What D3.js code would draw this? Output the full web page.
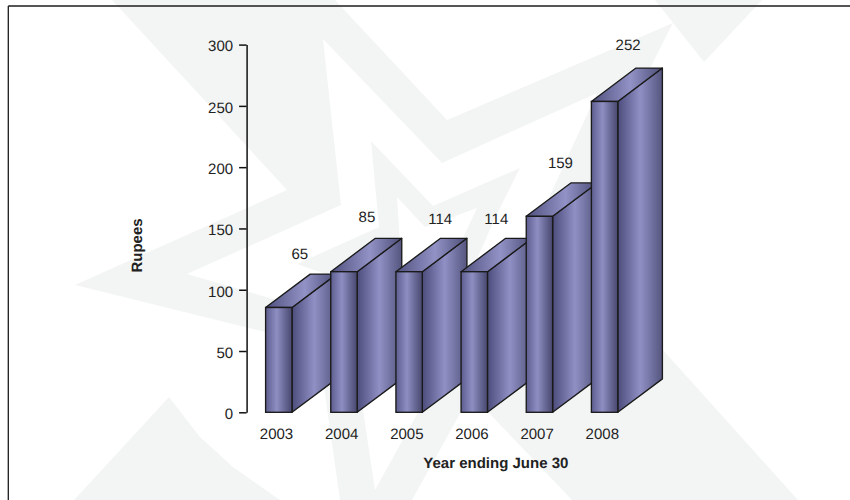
<!DOCTYPE html>
<html>
<head>
<meta charset="utf-8">
<script src="https://cdnjs.cloudflare.com/ajax/libs/d3/7.8.5/d3.min.js"></script>
<style>
html,body{margin:0;padding:0;background:#fff}
svg{display:block}
text{font-family:"Liberation Sans",Arial,sans-serif;fill:#222;text-rendering:geometricPrecision}
</style>
</head>
<body>
<svg id="chart" width="850" height="500"></svg>
<script>
// Data
const years = ["2003","2004","2005","2006","2007","2008"];
const barHeights = [85.5,114.7,114.7,114.7,159.9,253.6];   // height the bars are drawn at
const valueLabels = ["65","85","114","114","159","252"];    // printed labels
const yTicks = [0,50,100,150,200,250,300];
const xTitle = "Year ending June 30";
const yTitle = "Rupees";

// Layout
const labelDx = [21,23,31,22,21,23.5];
const labelDy = [49,50,48,48,48,51];
const barWidth = 26.4, depthX = 44.6, depthY = 33.4;

// Watermark shapes (background artwork, not data)
const wmGrey = "#f3f5f4";
const wmLayers = [
 [wmGrey,[[112,0],[287,190],[75,285],[318,345],[340,500],[412,500],[471,394],[488,412],[572,500],[798,500],[663,350],[563,239],[673,23],[447,120],[335,0]]],
 [wmGrey,[[655,0],[704,62],[762,0]]],
 [wmGrey,[[169,397],[200,437],[233,467],[280,500],[74,500]]],
 ["#ffffff",[[323,39],[442,163],[597,93],[525,250],[500,310],[461,335],[375,490],[363,410],[345,320],[187,274],[341,205]]],
 [wmGrey,[[371,141],[433,206],[520,168],[495,218],[470,275],[400,300],[297,264],[379,227]]],
 ["#ffffff",[[397,197],[425,227],[477,208],[462,240],[440,290],[403,290]]]
];

const svg = d3.select("#chart");

const defs = svg.append("defs");
function grad(id, stops){
  const g = defs.append("linearGradient").attr("id",id)
    .attr("x1","0").attr("x2","1").attr("y1","0").attr("y2","0");
  stops.forEach(s=>g.append("stop").attr("offset",s[0]).attr("stop-color",s[1]));
}
grad("front",[[0,"#5d5d90"],[0.42,"#8e8ec2"],[1,"#47476f"]]);
grad("side",[[0,"#4c4c7c"],[0.5,"#9090c5"],[1,"#55557f"]]);
grad("top",[[0,"#50507f"],[0.55,"#9292c6"],[1,"#4d4d78"]]);

// Background artwork
const wm = svg.append("g");
wmLayers.forEach(l=>{
  wm.append("polygon").attr("fill",l[0]).attr("points",l[1].map(p=>p.join(",")).join(" "));
});

// Frame (top and left only)
svg.append("line").attr("x1",8.3).attr("x2",850).attr("y1",6).attr("y2",6).attr("stroke","#1c1c1c").attr("stroke-width",1.3);
svg.append("line").attr("x1",8.3).attr("x2",8.3).attr("y1",6).attr("y2",500).attr("stroke","#1c1c1c").attr("stroke-width",1.3);

// Scales
const x = d3.scalePoint().domain(years).range([278.8,604.6]);
const y = d3.scaleLinear().domain([0,300]).range([412.3,44.6]);

// Y axis
const yAxis = d3.axisLeft(y).tickValues(yTicks).tickSize(7.5).tickPadding(6).tickSizeOuter(0);
const gy = svg.append("g").attr("transform","translate(246.6,0)").call(yAxis);
gy.selectAll("path,line").attr("stroke","#111").attr("stroke-width",1.5);
gy.selectAll("text").attr("dy",null).attr("y",6.3).attr("font-size",15).style("fill","#222");
gy.attr("font-family",null).attr("font-size",null);

// Bars
const poly = pts => pts.map(p=>p.join(",")).join(" ");
const bars = svg.append("g").selectAll("g").data(years).join("g");
const stroke = "#1a1a1a", sw = 1.35;
bars.each(function(yr,i){
  const g = d3.select(this);
  const l = x(yr)-barWidth/2, r = l+barWidth, t = y(barHeights[i]), b = y(0);
  g.append("polygon").attr("points",poly([[r,t],[r+depthX,t-depthY],[r+depthX,b-depthY],[r,b]]))
    .attr("fill","url(#side)").attr("stroke",stroke).attr("stroke-width",sw).attr("stroke-linejoin","round");
  g.append("polygon").attr("points",poly([[l,t],[l+depthX,t-depthY],[r+depthX,t-depthY],[r,t]]))
    .attr("fill","url(#top)").attr("stroke",stroke).attr("stroke-width",sw).attr("stroke-linejoin","round");
  g.append("rect").attr("x",l).attr("y",t).attr("width",barWidth).attr("height",b-t)
    .attr("fill","url(#front)").attr("stroke",stroke).attr("stroke-width",sw);
});

// Value labels
svg.append("g").selectAll("text").data(valueLabels).join("text")
  .attr("x",(d,i)=>x(years[i])+labelDx[i])
  .attr("y",(d,i)=>y(barHeights[i])-labelDy[i])
  .attr("text-anchor","middle").attr("font-size",15).text(d=>d);

// Category labels
svg.append("g").selectAll("text").data(years).join("text")
  .attr("x",d=>x(d)-2.3).attr("y",439)
  .attr("text-anchor","middle").attr("font-size",15).text(d=>d);

// Axis titles
svg.append("text").attr("x",495.8).attr("y",468.3).attr("text-anchor","middle")
  .attr("font-size",15).attr("font-weight","bold").text(xTitle);
svg.append("text").attr("transform","translate(141.5,245.5) rotate(-90)").attr("text-anchor","middle")
  .attr("font-size",15).attr("font-weight","bold").text(yTitle);
</script>
</body>
</html>
